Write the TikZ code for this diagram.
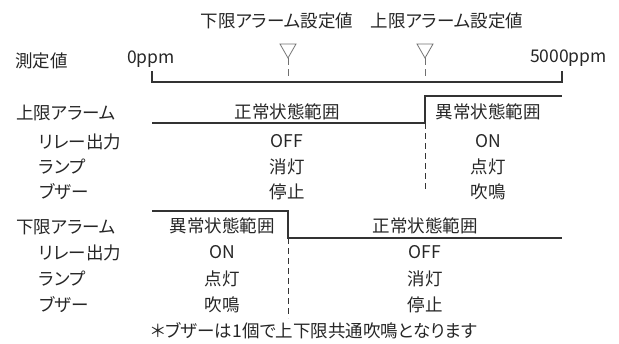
\documentclass[tikz,border=0pt]{standalone}
\usepackage{fontspec}
\newfontfamily\jp[RawFeature=+palt]{Noto Sans CJK JP}
\definecolor{txtc}{HTML}{262626}
\definecolor{linec}{HTML}{333333}
\definecolor{tric}{HTML}{707070}
\begin{document}
\begin{tikzpicture}[x=1pt,y=-1pt,
  txt/.style={font=\jp\fontsize{17.5}{20}\selectfont, text=txtc, inner sep=0pt, text height=12.8pt, text depth=0pt},
  lbl/.style={txt, anchor=west},
  ln/.style={draw=linec, line width=1.1pt},
  dsh/.style={draw=linec, line width=0.9pt, dash pattern=on 6pt off 4pt},
  tri/.style={draw=tric, line width=0.8pt}]
\useasboundingbox (0,0) rectangle (619,343);
% top labels
\node[txt] (lolbl) at (277,21) {下限アラーム設定値};
\node[txt] (hilbl) at (447,21) {上限アラーム設定値};
% scale
\node[lbl] (meas) at (15,61) {測定値};
\node[lbl] (zero) at (127,57) {0ppm};
\node[txt, anchor=east] (full) at (607,56) {5000ppm};
\coordinate (s0t) at (152,71); \coordinate (s0) at (152,82);
\coordinate (s1t) at (562,71); \coordinate (s1) at (562,82);
\draw[ln] (s0t) -- (s0) -- (s1) -- (s1t);
% markers
\coordinate (lotip) at (288,58); \coordinate (lobot) at (288,77);
\coordinate (hitip) at (425,58); \coordinate (hibot) at (425,77);
\draw[tri] (280,44) -- (296,44) -- (lotip) -- cycle;
\draw[tri] (417,44) -- (433,44) -- (hitip) -- cycle;
\draw[tri, dash pattern=on 7pt off 4pt] (lotip) -- (lobot);
\draw[tri, dash pattern=on 7pt off 4pt] (hitip) -- (hibot);
% upper alarm
\node[lbl] (ua) at (16,113) {上限アラーム};
\node[lbl] (ua1) at (39,142) {リレー出力};
\node[lbl] (ua2) at (39,167) {ランプ};
\node[lbl] (ua3) at (39,192) {ブザー};
\node[txt] (un) at (287,112) {正常状態範囲};
\node[txt] (uab) at (488,112) {異常状態範囲};
\node[txt] (un1) at (287,141) {OFF};
\node[txt] (un2) at (287,167) {消灯};
\node[txt] (un3) at (287,192) {停止};
\node[txt] (uab1) at (488,141) {ON};
\node[txt] (uab2) at (488,167) {点灯};
\node[txt] (uab3) at (488,192) {吹鳴};
\coordinate (u0) at (152,123); \coordinate (u1) at (425,123);
\coordinate (u2) at (425,96); \coordinate (u3) at (562,96);
\coordinate (ud) at (425,190);
\draw[ln] (u0) -- (u1) -- (u2) -- (u3);
\draw[dsh] (u1) -- (ud);
% lower alarm
\node[lbl] (la) at (16,227) {下限アラーム};
\node[lbl] (la1) at (39,253) {リレー出力};
\node[lbl] (la2) at (39,279) {ランプ};
\node[lbl] (la3) at (39,305) {ブザー};
\node[txt] (lab) at (222,226) {異常状態範囲};
\node[txt] (ln) at (425,226) {正常状態範囲};
\node[txt] (lab1) at (222,252) {ON};
\node[txt] (lab2) at (222,279) {点灯};
\node[txt] (lab3) at (222,305) {吹鳴};
\node[txt] (ln1) at (425,252) {OFF};
\node[txt] (ln2) at (425,279) {消灯};
\node[txt] (ln3) at (425,305) {停止};
\coordinate (l0) at (152,211); \coordinate (l1) at (288,211);
\coordinate (l2) at (288,238); \coordinate (l3) at (562,238);
\coordinate (ld) at (288,318);
\draw[ln] (l0) -- (l1) -- (l2) -- (l3);
\draw[dsh] (l2) -- (ld);
% footnote
\node[lbl] (note) at (151,331) {＊ブザーは1個で上下限共通吹鳴となります};
\end{tikzpicture}
\end{document}
